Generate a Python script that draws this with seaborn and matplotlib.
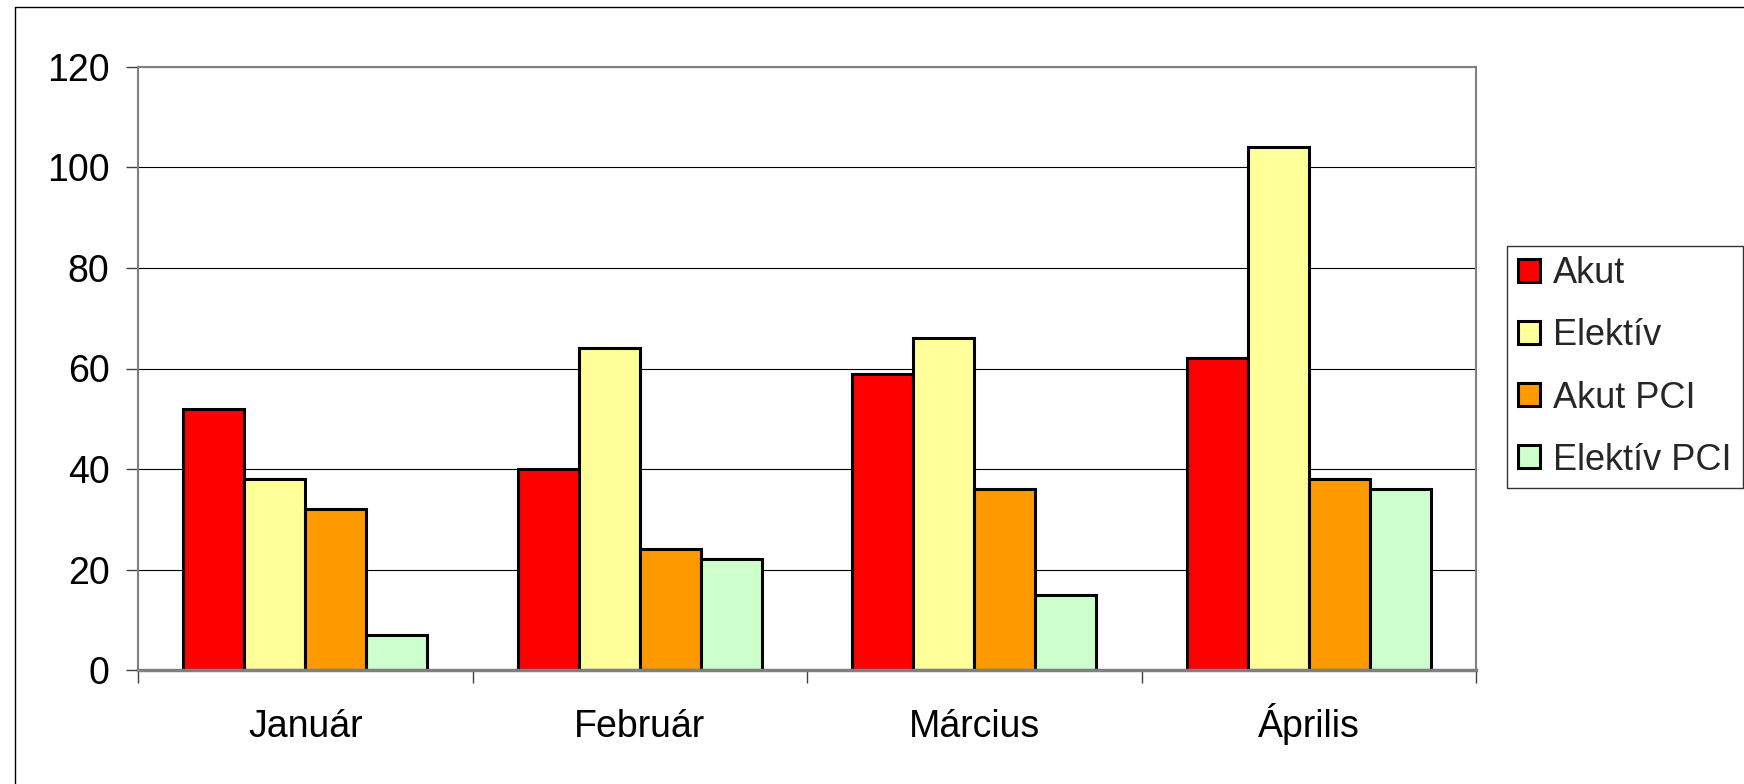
import matplotlib
matplotlib.use("Agg")
import matplotlib.pyplot as plt
from matplotlib.lines import Line2D
import numpy as np
import pandas as pd
import seaborn as sns

# data
months = ["Január", "Február", "Március", "Április"]
series = ["Akut", "Elektív", "Akut PCI", "Elektív PCI"]
akut = [52, 40, 59, 62]
elektiv = [38, 64, 66, 104]
akut_pci = [32, 24, 36, 38]
elektiv_pci = [7, 22, 15, 36]
colors = ["#FF0000", "#FFFF99", "#FF9900", "#CCFFCC"]
y_ticks = [0, 20, 40, 60, 80, 100, 120]

df = pd.DataFrame({
    "month": months * 4,
    "series": [s for s in series for _ in months],
    "value": akut + elektiv + akut_pci + elektiv_pci,
})

sns.set_theme(style="white")
plt.rcParams["font.family"] = ["Liberation Sans", "DejaVu Sans"]
fs = 27

fig = plt.figure(figsize=(17.44, 7.84), dpi=100)
ax = fig.add_axes([138 / 1744, 1 - 670 / 784, (1476 - 138) / 1744, (670 - 67) / 784])

sns.barplot(data=df, x="month", y="value", hue="series", hue_order=series,
            order=months, palette=colors, edgecolor="black", linewidth=2.2,
            width=0.73, gap=0, ax=ax, zorder=3, saturation=1)

ax.set_xlim(-0.5, 3.5)
ax.set_ylim(0, 120)
ax.set_yticks(y_ticks)
ax.set_xlabel("")
ax.set_ylabel("")

# gridlines
ax.yaxis.grid(True, color="black", linewidth=0.8)
ax.set_axisbelow(True)

# spines
for side in ["top", "right", "left"]:
    ax.spines[side].set_color("#808080")
    ax.spines[side].set_linewidth(1.5)
ax.spines["bottom"].set_color("#808080")
ax.spines["bottom"].set_linewidth(2.5)
ax.spines["bottom"].set_zorder(4)

# ticks
ax.tick_params(axis="y", labelsize=fs, length=8.6, width=1, color="#404040",
               pad=12, left=True, labelcolor="black")
ax.set_xticks(np.arange(-0.5, 4, 1), minor=True)
ax.tick_params(axis="x", which="minor", length=9, width=1, color="#404040",
               bottom=True)
ax.tick_params(axis="x", which="major", length=0, pad=48, labelsize=fs,
               labelcolor="black")
for lab in ax.get_xticklabels():
    lab.set_verticalalignment("baseline")

# legend
handles, labels = ax.get_legend_handles_labels()
leg = ax.legend(handles, labels, loc="center left",
                bbox_to_anchor=(1507 / 1744, 1 - 367 / 784),
                bbox_transform=fig.transFigure, borderaxespad=0,
                fontsize=26, frameon=True, fancybox=False, shadow=False,
                handlelength=0.6, handleheight=0.6, handletextpad=0.38,
                labelspacing=0.75, borderpad=0.3)
leg.get_frame().set_edgecolor("black")
leg.get_frame().set_linewidth(1)

# outer chart-area border (left and top visible)
fig.add_artist(Line2D([14.5 / 1744, 14.5 / 1744], [0, 1 - 6.7 / 784],
                      transform=fig.transFigure, color="black", linewidth=1))
fig.add_artist(Line2D([14.5 / 1744, 1], [1 - 6.7 / 784, 1 - 6.7 / 784],
                      transform=fig.transFigure, color="black", linewidth=1))

fig.savefig("out.png", dpi=100)
